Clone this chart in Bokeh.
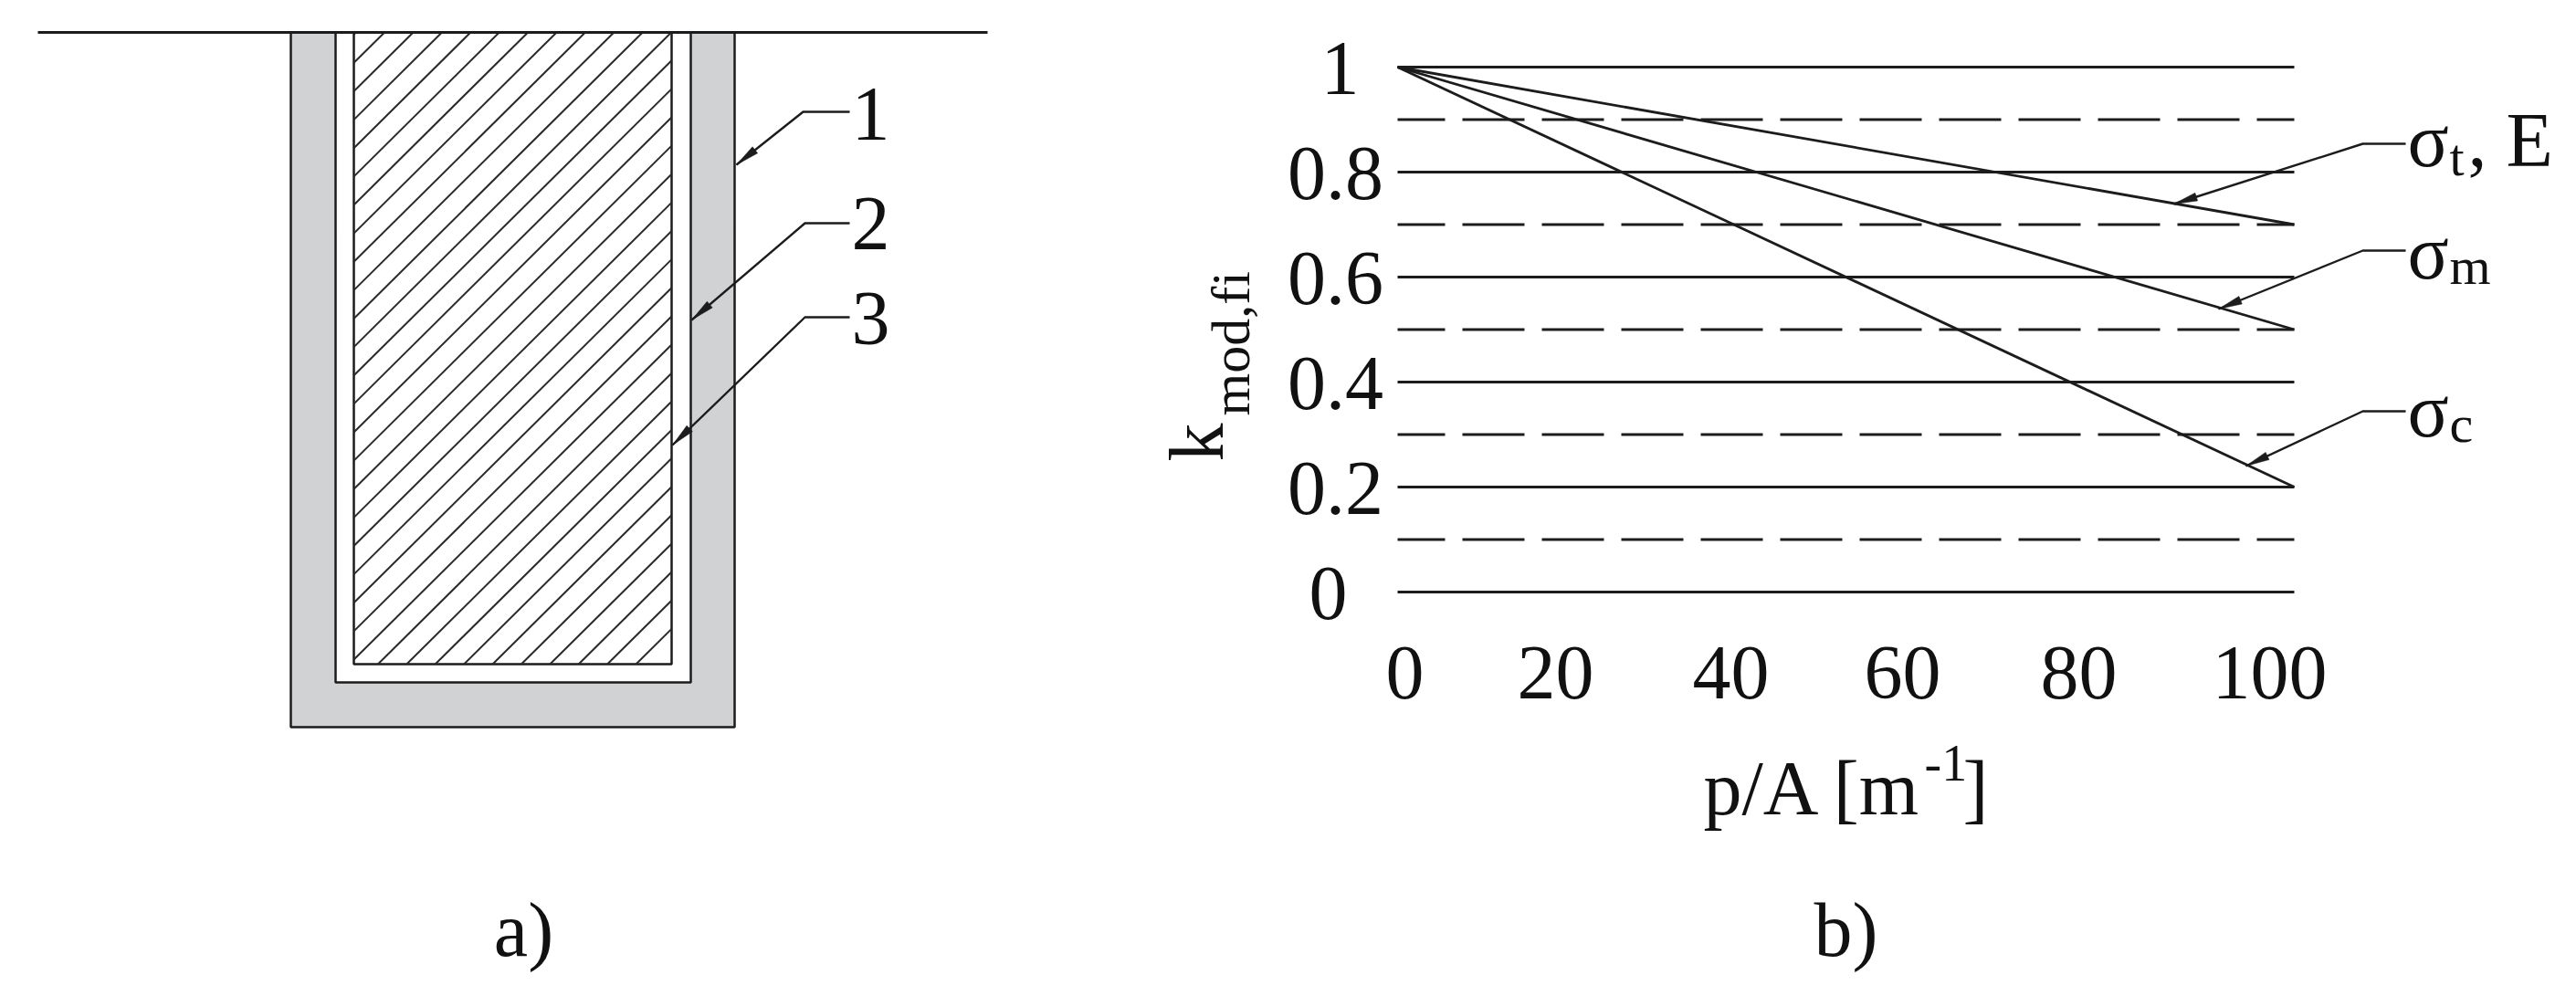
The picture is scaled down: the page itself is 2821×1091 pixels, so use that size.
import numpy as np
from bokeh.plotting import figure
from bokeh.layouts import row
from bokeh.embed import file_html
from bokeh.resources import INLINE
from bokeh.core.properties import value

# ---- chart data (panel b) ----
x_ticks = [0, 20, 40, 60, 80, 100]
x_tick_labels = ["0", "20", "40", "60", "80", "100"]
y_ticks = [0, 0.2, 0.4, 0.6, 0.8, 1]
y_tick_labels = ["0", "0.2", "0.4", "0.6", "0.8", "1"]
solid_levels = [0, 0.2, 0.4, 0.6, 0.8, 1.0]
dashed_levels = [0.1, 0.3, 0.5, 0.7, 0.9]
series_x = [0, 100]
sigma_t_E = [1.0, 0.7]
sigma_m = [1.0, 0.5]
sigma_c = [1.0, 0.2]
part_labels = ["a)", "b)"]
part_numbers = ["1", "2", "3"]

INK = "#1c1c1c"
FONT = value("Liberation Serif")
BIG = 84
SUB = 58

PAGE_T, PAGE_B = 0, 1075
A_L, A_R = 0, 1200
B_L, B_R = 1200, 2805
SHIFT = 0.34  # bokeh draws an alphabetic text this far (in em) under the given y


def base(w, xr, yr):
    f = figure(width=w, height=PAGE_B - PAGE_T, x_range=xr, y_range=yr,
               output_backend="svg", toolbar_location=None,
               min_border=0, outline_line_color=None,
               background_fill_color="white", border_fill_color="white")
    f.axis.visible = False
    f.grid.visible = False
    return f


def put(f, mx, my, px, py, s, size=BIG, align="left", rotated=False):
    if rotated:
        px = px - SHIFT * size
    else:
        py = py - SHIFT * size
    f.text(x=[mx(px)], y=[my(py)], text=[s], text_font=FONT, text_font_size=f"{size}px",
           text_color="#111111", text_align=align, text_baseline="alphabetic",
           angle=np.pi / 2 if rotated else 0.0)


def ident(v):
    return v


def leader(f, pts, X=ident, Y=ident):
    """Polyline ending in a slim arrow head; pts are given in page pixels."""
    xs = [p[0] for p in pts]
    ys = [p[1] for p in pts]
    f.line([X(v) for v in xs], [Y(v) for v in ys], line_color=INK, line_width=2.4)
    tip = np.array(pts[-1], float)
    prev = np.array(pts[-2], float)
    d = (prev - tip) / np.linalg.norm(prev - tip)
    n = np.array([-d[1], d[0]])
    back = tip + d * 26
    a = back + n * 4.5
    b = back - n * 4.5
    f.patch([X(v) for v in (tip[0], a[0], b[0])], [Y(v) for v in (tip[1], a[1], b[1])],
            fill_color=INK, line_color=INK, line_width=0.5)


# ---- panel a: section drawing, coordinates in page pixels ----
a = base(A_R - A_L, (A_L, A_R), (PAGE_B, PAGE_T))
TOP = 35
a.quad(left=[318], right=[804], top=[TOP], bottom=[796], fill_color="#d0d2d3",
       line_color=INK, line_width=2.5)
a.quad(left=[367], right=[756], top=[TOP], bottom=[747], fill_color="white",
       line_color=INK, line_width=2.5)
a.quad(left=[387], right=[735], top=[TOP], bottom=[727], fill_color="white",
       line_color=INK, line_width=2.5)

# almost 45 degree hatching clipped to the timber rectangle
hx0, hx1, hy0, hy1 = 387, 735, TOP, 727
RUN = 1.0087  # horizontal run per unit of rise
hs_x, hs_y = [], []
for xb in np.arange(696, -330, -31.4):
    if xb >= hx0:
        x_start, y_start = xb, hy1
    else:
        x_start, y_start = hx0, hy1 - (hx0 - xb) / RUN
    x_top = xb + (hy1 - hy0) * RUN
    if x_top <= hx1:
        x_end, y_end = x_top, hy0
    else:
        x_end, y_end = hx1, hy1 - (hx1 - xb) / RUN
    if y_start <= hy0:
        continue
    hs_x.append([x_start, x_end])
    hs_y.append([y_start, y_end])
a.multi_line(hs_x, hs_y, line_color="#2a2a2a", line_width=2)

a.line([41, 1081], [TOP, TOP], line_color=INK, line_width=3.2)

leader(a, [(930, 122), (879, 122), (806, 180)])
leader(a, [(930, 244), (881, 244), (757, 350)])
leader(a, [(930, 347), (881, 347), (736, 487)])
for s, by in zip(part_numbers, [153, 273, 377]):
    put(a, ident, ident, 932, by, s)
put(a, ident, ident, 573, 1047, part_labels[0], align="center")

# ---- panel b: the graph ----
PX0, PX100 = 1530, 2512
PY0, PY1 = 648, 73


def X(px):
    return (px - PX0) / (PX100 - PX0) * 100


def Y(py):
    return (PY0 - py) / (PY0 - PY1)


b = base(B_R - B_L, (X(B_L), X(B_R)), (Y(PAGE_B), Y(PAGE_T)))
for lv in solid_levels:
    b.line(series_x, [lv, lv], line_color=INK, line_width=3)
for lv in dashed_levels:
    b.line(series_x, [lv, lv], line_color=INK, line_width=3, line_dash="68 19", line_dash_offset=16)
for ys in (sigma_t_E, sigma_m, sigma_c):
    b.line(series_x, ys, line_color=INK, line_width=2.8)

# tick labels sit where the picture has them, not exactly under the tick value
x_label_px = [1538, 1703, 1895, 2083, 2276, 2485]
for px, s in zip(x_label_px, x_tick_labels):
    put(b, X, Y, px, 765, s, align="center")
y_label_px = [1454, 1462, 1462, 1462, 1462, 1467]
for px, v, s in zip(y_label_px, y_ticks, y_tick_labels):
    put(b, X, Y, px, PY0 - v * (PY0 - PY1) + 30, s, align="center")

# y axis title, rotated
put(b, X, Y, 1339, 505, "k", rotated=True)
put(b, X, Y, 1368, 455, "mod,fi", size=60, rotated=True)

# x axis title
put(b, X, Y, 1865, 892, "p/A [m")
put(b, X, Y, 2107, 855, "-1", size=56)
put(b, X, Y, 2149, 892, "]")
put(b, X, Y, 2021, 1047, part_labels[1], align="center")

# series labels
leader(b, [(2634, 157), (2587, 157), (2380, 223)], X, Y)
leader(b, [(2634, 274), (2587, 274), (2429, 338)], X, Y)
leader(b, [(2634, 450), (2587, 450), (2459, 510)], X, Y)
put(b, X, Y, 2636, 182, "σ")
put(b, X, Y, 2682, 192, "t", size=SUB)
put(b, X, Y, 2702, 182, ", E")
put(b, X, Y, 2636, 305, "σ")
put(b, X, Y, 2682, 311, "m", size=SUB)
put(b, X, Y, 2636, 478, "σ")
put(b, X, Y, 2682, 484, "c", size=SUB)

p = row(a, b, spacing=0)
open("out.html", "w").write(file_html(p, INLINE))
